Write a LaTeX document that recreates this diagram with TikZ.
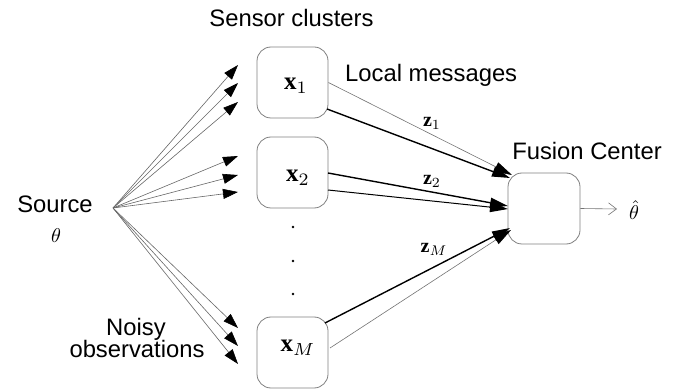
\documentclass[tikz,border=0pt]{standalone}
\usepackage{graphicx}
\usepackage[no-math]{fontspec}
\setmainfont{Liberation Sans}
\newfontfamily\tms{Liberation Serif}
\usetikzlibrary{arrows.meta}
\newcommand{\bvec}[1]{\mbox{\tms\bfseries #1}}
\begin{document}
\begin{tikzpicture}[x=1pt,y=-1pt,
  box/.style={draw=black!50, line width=0.8pt, rounded corners=14pt,
    minimum width=71pt, minimum height=71pt, inner sep=0pt},
  lbl/.style={font=\fontsize{23.8}{26}\selectfont, inner sep=0pt},
  mathlbl/.style={inner sep=0pt},
  obs/.style={draw=black!60, line width=0.6pt, -{Triangle[length=15pt,width=10pt,color=black]}},
  thinmsg/.style={draw=black!55, line width=0.6pt, -{Triangle[length=18pt,width=10pt,color=black]}},
  thickmsg/.style={draw=black, line width=1.4pt, -{Triangle[length=18pt,width=10pt,color=black]}},
  midmsg/.style={draw=black, line width=1.0pt, -{Triangle[length=18pt,width=10pt,color=black]}},
  outarr/.style={draw=black!55, line width=0.6pt, -{Straight Barb[length=8pt,width=12pt]}}
]
\useasboundingbox (0,0) rectangle (675,390);

% sensor boxes
\node[box] (x1) at (292.5,82.5) {};
\node[box] (x2) at (292.5,172.5) {};
\node[box] (xM) at (292.5,352.5) {};
\node[box, minimum width=72pt] (fc) at (544,208.5) {};
\node[mathlbl] (x1l) at (296,86) {\scalebox{2.5}{$\bvec{x}_1$}};
\node[mathlbl] (x2l) at (298,178) {\scalebox{2.5}{$\bvec{x}_2$}};
\node[mathlbl] (xMl) at (298,348) {\scalebox{2.5}{$\bvec{x}_M$}};

% dots
\fill (293,227) circle (1.4pt);
\fill (293,261) circle (1.4pt);
\fill (293,294) circle (1.4pt);

% text labels
\node[lbl, anchor=base] (sc) at (291.5,27) {Sensor clusters};
\node[lbl, anchor=base west] (lm) at (345,82) {Local messages};
\node[lbl, anchor=base] (fct) at (587,160) {Fusion Center};
\node[lbl, anchor=base] (srct) at (55,213) {Source};
\node[mathlbl] (th) at (56,236) {\scalebox{2.0}{$\theta$}};
\node[lbl, anchor=base] (noisy) at (136,335) {Noisy};
\node[lbl, anchor=base] (obst) at (137,357) {observations};

% source point and observation tips
\coordinate (src) at (113,208);
\coordinate (t1a) at (238,65);
\coordinate (t1b) at (238,83);
\coordinate (t1c) at (238,102);
\coordinate (t2a) at (238,156);
\coordinate (t2b) at (238,175);
\coordinate (t2c) at (238,192);
\coordinate (tMa) at (238,328);
\coordinate (tMb) at (238,346);
\coordinate (tMc) at (238,364);
\foreach \t in {t1a,t1b,t1c,t2a,t2b,t2c,tMa,tMb,tMc}
  \draw[obs] (src) -- (\t);

% messages to fusion center
\coordinate (s1b) at (327,109);
\coordinate (s2a) at (328,173);
\coordinate (s2b) at (328,190);
\coordinate (sMa) at (325,323);
\coordinate (sMb) at (330,348);
\coordinate (e1a) at (512,175);
\coordinate (e1b) at (510,178);
\coordinate (e2a) at (508,206);
\coordinate (e2b) at (508,209);
\coordinate (eMa) at (510,228);
\coordinate (eMb) at (511,230);

\draw[thinmsg] (x1.east) -- (e1a);
\draw[thickmsg] (s1b) -- (e1b);
\draw[thickmsg] (s2a) -- (e2a);
\draw[midmsg] (s2b) -- (e2b);
\draw[thinmsg] (sMb) -- (eMb);
\draw[thickmsg] (sMa) -- (eMa);

\node[mathlbl] (z1) at (432,123) {\scalebox{2.0}{$\bvec{z}_1$}};
\node[mathlbl] (z2) at (432,181) {\scalebox{2.0}{$\bvec{z}_2$}};
\node[mathlbl] (zM) at (434,249) {\scalebox{2.0}{$\bvec{z}_M$}};

% output
\coordinate (outend) at (617,209);
\draw[outarr] (fc.east) -- (outend);
\node[mathlbl] (thhat) at (634,210) {\scalebox{2.0}{$\hat{\theta}$}};
\end{tikzpicture}
\end{document}
